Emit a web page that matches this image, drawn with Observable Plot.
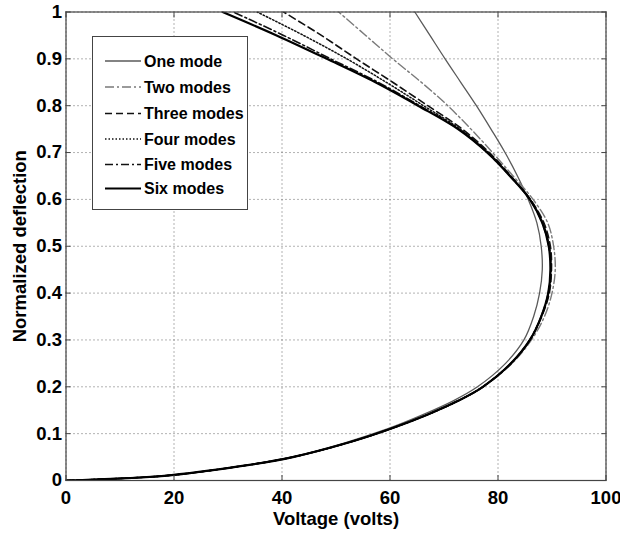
<!DOCTYPE html>
<html>
<head>
<meta charset="utf-8">
<script src="https://cdn.jsdelivr.net/npm/d3@7"></script>
<script src="https://cdn.jsdelivr.net/npm/@observablehq/plot@0.6"></script>
<style>
  body { margin: 0; background: #fff; font-family: Arial, "Liberation Sans", sans-serif; }
  #wrap { position: relative; width: 620px; height: 533px; }
  #legend { position: absolute; left: 92px; top: 36px; width: 154px; height: 172px;
            border: 1.5px solid #444; background: #fff; }
  #legend text { font-family: Arial, "Liberation Sans", sans-serif; font-weight: bold; font-size: 16px; }
</style>
</head>
<body>
<div id="wrap"><svg id="legend" width="154" height="172"></svg></div>
<script>
// Normalized deflection levels (shared by all series)
const deflection = [0, 0.01, 0.03, 0.05, 0.08, 0.11, 0.14, 0.17, 0.2, 0.25, 0.3, 0.35, 0.4, 0.45, 0.5, 0.55, 0.6, 0.65, 0.7, 0.75, 0.8, 0.85, 0.9, 0.95, 1.0];
// Voltage (volts) for each model at those deflections
const oneMode    = [0, 18.3, 31.8, 41.6, 51.5, 59.5, 66.0, 71.7, 76.2, 81.4, 84.8, 86.6, 87.7, 88.2, 88.0, 87.2, 85.6, 83.6, 81.3, 78.7, 76.0, 73.1, 70.2, 67.4, 64.6];
const twoModes   = [0, 18.2, 32.0, 42.0, 52.0, 60.0, 66.8, 72.6, 77.3, 82.6, 86.2, 88.6, 90.0, 90.6, 90.3, 89.2, 86.5, 82.8, 79.0, 75.0, 70.7, 65.8, 60.5, 55.5, 50.5];
const threeModes = [0, 18.2, 32.0, 42.0, 52.0, 60.0, 66.8, 72.6, 77.2, 82.4, 85.9, 88.1, 89.5, 89.9, 89.7, 88.5, 86.0, 82.4, 78.4, 73.4, 67.0, 60.5, 53.8, 47.3, 40.3];
const fourModes  = [0, 18.2, 32.0, 42.0, 52.0, 60.0, 66.8, 72.6, 77.2, 82.4, 85.9, 88.0, 89.4, 89.8, 89.5, 88.3, 85.9, 82.3, 78.2, 73.0, 66.2, 59.3, 52.0, 44.0, 35.4];
const fiveModes  = [0, 18.2, 32.0, 42.0, 52.0, 60.0, 66.8, 72.6, 77.2, 82.4, 85.9, 88.0, 89.3, 89.8, 89.4, 88.2, 85.9, 82.2, 78.0, 72.8, 65.5, 57.8, 49.0, 40.3, 31.0];
const sixModes   = [0, 18.2, 32.0, 42.0, 52.0, 60.0, 66.8, 72.6, 77.2, 82.4, 85.9, 88.0, 89.3, 89.7, 89.4, 88.2, 85.9, 82.2, 78.0, 72.6, 65.2, 57.3, 48.3, 39.0, 29.0];

const seriesNames = ["One mode", "Two modes", "Three modes", "Four modes", "Five modes", "Six modes"];
const seriesValues = [oneMode, twoModes, threeModes, fourModes, fiveModes, sixModes];
const xTicks = [0, 20, 40, 60, 80, 100];
const yTicks = [0, 0.1, 0.2, 0.3, 0.4, 0.5, 0.6, 0.7, 0.8, 0.9, 1];

const styles = [
  {stroke: "#5a5a5a", strokeWidth: 1.3, strokeDasharray: null},
  {stroke: "#7a7a7a", strokeWidth: 1.4, strokeDasharray: "9,3,2,3"},
  {stroke: "#111", strokeWidth: 1.6, strokeDasharray: "7,4"},
  {stroke: "#111", strokeWidth: 1.5, strokeDasharray: "1.5,2"},
  {stroke: "#111", strokeWidth: 1.6, strokeDasharray: "8,3,2,3"},
  {stroke: "#000", strokeWidth: 2.2, strokeDasharray: null}
];

const rows = seriesNames.map((name, i) =>
  deflection.map((d, j) => ({series: name, v: seriesValues[i][j], d})));

const chart = Plot.plot({
  width: 620,
  height: 533,
  marginLeft: 65.5,
  marginRight: 14.5,
  marginTop: 11.5,
  marginBottom: 53,
  style: {fontFamily: "Arial, 'Liberation Sans', sans-serif", fontSize: "18.5px", fontWeight: "bold", background: "#fff", overflow: "visible"},
  x: {domain: [0, 100]},
  y: {domain: [0, 1]},
  marks: [
    Plot.gridX(xTicks, {stroke: "#666", strokeOpacity: 1, strokeDasharray: "1,3"}),
    Plot.gridY(yTicks, {stroke: "#666", strokeOpacity: 1, strokeDasharray: "1,3"}),
    ...rows.map((r, i) => Plot.line(r, {x: "v", y: "d", curve: "catmull-rom", clip: true, ...styles[i]})),
    Plot.frame({stroke: "#444", strokeWidth: 1.2}),
    Plot.axisX(xTicks, {anchor: "bottom", tickSize: 0, tickPadding: 10, fontWeight: "bold", fill: "#000",
      label: "Voltage (volts)", labelAnchor: "center", labelArrow: "none", labelOffset: 44}),
    Plot.axisY(yTicks, {anchor: "left", tickSize: 0, tickPadding: 4, fontWeight: "bold", fill: "#000",
      tickFormat: d3.format("~g"),
      label: "Normalized deflection", labelAnchor: "center", labelArrow: "none", labelOffset: 53}),
    Plot.axisX(xTicks, {anchor: "bottom", tickSize: -5, tickFormat: () => "", label: null, stroke: "#444"}),
    Plot.axisX(xTicks, {anchor: "top", tickSize: -5, tickFormat: () => "", label: null, stroke: "#444"}),
    Plot.axisY(yTicks, {anchor: "left", tickSize: -5, tickFormat: () => "", label: null, stroke: "#444"}),
    Plot.axisY(yTicks, {anchor: "right", tickSize: -5, tickFormat: () => "", label: null, stroke: "#444"})
  ]
});
d3.select(chart).selectAll("text")
  .style("font-weight", "bold").style("font-size", "18.5px").style("fill", "#000");
document.getElementById("wrap").prepend(chart);

// Legend overlay
const lg = d3.select("#legend");
const rowY = [24, 50, 76.5, 102, 127.5, 151.5];
seriesNames.forEach((name, i) => {
  const s = styles[i];
  lg.append("line").attr("x1", 12).attr("x2", 48).attr("y1", rowY[i]).attr("y2", rowY[i])
    .attr("stroke", s.stroke).attr("stroke-width", s.strokeWidth)
    .attr("stroke-dasharray", s.strokeDasharray);
  lg.append("text").attr("x", 51).attr("y", rowY[i]).attr("dy", "0.35em").text(name);
});
</script>
</body>
</html>
